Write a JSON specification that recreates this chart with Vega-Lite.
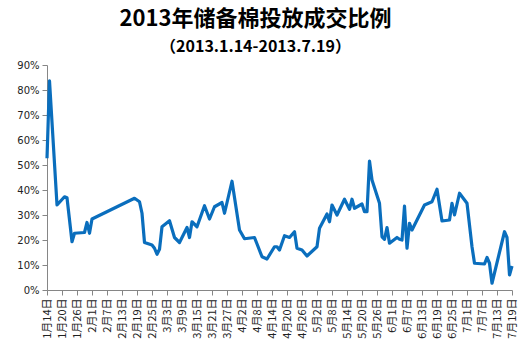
{
  "$schema": "https://vega.github.io/schema/vega-lite/v6.json",
  "autosize": {"type": "none"},
  "padding": {"left": 47, "top": 65, "right": 18, "bottom": 62},
  "width": 465,
  "height": 225,
  "background": "white",
  "title": {
    "text": "2013年储备棉投放成交比例",
    "subtitle": "（2013.1.14-2013.7.19）",
    "anchor": "middle",
    "dx": -24,
    "offset": 4,
    "font": "Noto Sans CJK SC",
    "fontSize": 22,
    "fontWeight": "bold",
    "color": "#000000",
    "subtitleFont": "Noto Sans CJK SC",
    "subtitleFontSize": 16,
    "subtitleFontWeight": "bold",
    "subtitleColor": "#000000",
    "subtitlePadding": 8
  },
  "config": {"view": {"stroke": null}},
  "data": {
    "values": [
      {"date": "2013-01-14", "v": 52.7},
      {"date": "2013-01-15", "v": 83.7},
      {"date": "2013-01-18", "v": 34.0},
      {"date": "2013-01-21", "v": 37.3},
      {"date": "2013-01-22", "v": 36.9},
      {"date": "2013-01-24", "v": 19.3},
      {"date": "2013-01-25", "v": 22.7},
      {"date": "2013-01-29", "v": 23.0},
      {"date": "2013-01-30", "v": 27.0},
      {"date": "2013-01-31", "v": 22.7},
      {"date": "2013-02-01", "v": 28.4},
      {"date": "2013-02-18", "v": 36.7},
      {"date": "2013-02-20", "v": 35.3},
      {"date": "2013-02-21", "v": 30.7},
      {"date": "2013-02-22", "v": 19.0},
      {"date": "2013-02-25", "v": 18.0},
      {"date": "2013-02-26", "v": 16.7},
      {"date": "2013-02-27", "v": 14.3},
      {"date": "2013-02-28", "v": 16.3},
      {"date": "2013-03-01", "v": 25.3},
      {"date": "2013-03-04", "v": 27.7},
      {"date": "2013-03-06", "v": 21.0},
      {"date": "2013-03-08", "v": 19.0},
      {"date": "2013-03-11", "v": 25.0},
      {"date": "2013-03-12", "v": 21.0},
      {"date": "2013-03-13", "v": 27.3},
      {"date": "2013-03-15", "v": 25.3},
      {"date": "2013-03-18", "v": 33.7},
      {"date": "2013-03-20", "v": 28.4},
      {"date": "2013-03-22", "v": 33.3},
      {"date": "2013-03-25", "v": 35.0},
      {"date": "2013-03-26", "v": 30.7},
      {"date": "2013-03-29", "v": 43.5},
      {"date": "2013-04-01", "v": 24.0},
      {"date": "2013-04-03", "v": 20.5},
      {"date": "2013-04-07", "v": 21.0},
      {"date": "2013-04-10", "v": 13.3},
      {"date": "2013-04-12", "v": 12.4},
      {"date": "2013-04-15", "v": 17.3},
      {"date": "2013-04-16", "v": 17.3},
      {"date": "2013-04-17", "v": 16.0},
      {"date": "2013-04-19", "v": 21.7},
      {"date": "2013-04-21", "v": 21.0},
      {"date": "2013-04-23", "v": 23.3},
      {"date": "2013-04-24", "v": 16.7},
      {"date": "2013-04-26", "v": 16.0},
      {"date": "2013-04-28", "v": 13.6},
      {"date": "2013-05-02", "v": 17.3},
      {"date": "2013-05-03", "v": 24.7},
      {"date": "2013-05-06", "v": 30.4},
      {"date": "2013-05-07", "v": 27.3},
      {"date": "2013-05-08", "v": 34.0},
      {"date": "2013-05-10", "v": 30.0},
      {"date": "2013-05-13", "v": 36.3},
      {"date": "2013-05-15", "v": 32.3},
      {"date": "2013-05-16", "v": 36.3},
      {"date": "2013-05-17", "v": 32.7},
      {"date": "2013-05-20", "v": 34.4},
      {"date": "2013-05-21", "v": 31.3},
      {"date": "2013-05-22", "v": 31.3},
      {"date": "2013-05-23", "v": 51.6},
      {"date": "2013-05-24", "v": 44.0},
      {"date": "2013-05-27", "v": 34.7},
      {"date": "2013-05-28", "v": 21.3},
      {"date": "2013-05-29", "v": 20.3},
      {"date": "2013-05-30", "v": 25.0},
      {"date": "2013-05-31", "v": 18.7},
      {"date": "2013-06-03", "v": 21.0},
      {"date": "2013-06-04", "v": 20.3},
      {"date": "2013-06-05", "v": 20.0},
      {"date": "2013-06-06", "v": 33.6},
      {"date": "2013-06-07", "v": 16.7},
      {"date": "2013-06-08", "v": 26.7},
      {"date": "2013-06-09", "v": 24.0},
      {"date": "2013-06-14", "v": 34.0},
      {"date": "2013-06-17", "v": 35.3},
      {"date": "2013-06-19", "v": 40.3},
      {"date": "2013-06-21", "v": 27.6},
      {"date": "2013-06-24", "v": 28.0},
      {"date": "2013-06-25", "v": 34.7},
      {"date": "2013-06-26", "v": 30.0},
      {"date": "2013-06-28", "v": 38.7},
      {"date": "2013-07-01", "v": 34.7},
      {"date": "2013-07-03", "v": 17.3},
      {"date": "2013-07-04", "v": 10.7},
      {"date": "2013-07-08", "v": 10.4},
      {"date": "2013-07-09", "v": 13.0},
      {"date": "2013-07-10", "v": 10.7},
      {"date": "2013-07-11", "v": 2.7},
      {"date": "2013-07-16", "v": 23.3},
      {"date": "2013-07-17", "v": 21.0},
      {"date": "2013-07-18", "v": 6.0},
      {"date": "2013-07-19", "v": 9.6}
    ]
  },
  "mark": {"type": "line", "color": "#0A6EBD", "strokeWidth": 3.2, "strokeJoin": "round"},
  "encoding": {
    "x": {
      "field": "date",
      "type": "temporal",
      "scale": {
        "type": "utc",
        "domain": [
          {"year": 2013, "month": 1, "date": 14, "utc": true},
          {"year": 2013, "month": 7, "date": 19, "utc": true}
        ]
      },
      "axis": {
        "title": null,
        "grid": false,
        "values": [
          {"year": 2013, "month": 1, "date": 14, "utc": true},
          {"year": 2013, "month": 1, "date": 20, "utc": true},
          {"year": 2013, "month": 1, "date": 26, "utc": true},
          {"year": 2013, "month": 2, "date": 1, "utc": true},
          {"year": 2013, "month": 2, "date": 7, "utc": true},
          {"year": 2013, "month": 2, "date": 13, "utc": true},
          {"year": 2013, "month": 2, "date": 19, "utc": true},
          {"year": 2013, "month": 2, "date": 25, "utc": true},
          {"year": 2013, "month": 3, "date": 3, "utc": true},
          {"year": 2013, "month": 3, "date": 9, "utc": true},
          {"year": 2013, "month": 3, "date": 15, "utc": true},
          {"year": 2013, "month": 3, "date": 21, "utc": true},
          {"year": 2013, "month": 3, "date": 27, "utc": true},
          {"year": 2013, "month": 4, "date": 2, "utc": true},
          {"year": 2013, "month": 4, "date": 8, "utc": true},
          {"year": 2013, "month": 4, "date": 14, "utc": true},
          {"year": 2013, "month": 4, "date": 20, "utc": true},
          {"year": 2013, "month": 4, "date": 26, "utc": true},
          {"year": 2013, "month": 5, "date": 2, "utc": true},
          {"year": 2013, "month": 5, "date": 8, "utc": true},
          {"year": 2013, "month": 5, "date": 14, "utc": true},
          {"year": 2013, "month": 5, "date": 20, "utc": true},
          {"year": 2013, "month": 5, "date": 26, "utc": true},
          {"year": 2013, "month": 6, "date": 1, "utc": true},
          {"year": 2013, "month": 6, "date": 7, "utc": true},
          {"year": 2013, "month": 6, "date": 13, "utc": true},
          {"year": 2013, "month": 6, "date": 19, "utc": true},
          {"year": 2013, "month": 6, "date": 25, "utc": true},
          {"year": 2013, "month": 7, "date": 1, "utc": true},
          {"year": 2013, "month": 7, "date": 7, "utc": true},
          {"year": 2013, "month": 7, "date": 13, "utc": true},
          {"year": 2013, "month": 7, "date": 19, "utc": true}
        ],
        "labelExpr": "utcFormat(datum.value, '%-m月%-d日')",
        "labelAngle": 270,
        "labelAlign": "right",
        "labelBaseline": "middle",
        "labelFont": "Noto Sans CJK SC",
        "labelFontSize": 11,
        "labelColor": "#222222",
        "labelPadding": 3,
        "labelOverlap": false,
        "labelBound": false,
        "labelFlush": false,
        "domainColor": "#868686",
        "tickColor": "#868686",
        "tickSize": 5
      }
    },
    "y": {
      "field": "v",
      "type": "quantitative",
      "scale": {"domain": [0, 90], "nice": false, "zero": true},
      "axis": {
        "title": null,
        "grid": false,
        "values": [0, 10, 20, 30, 40, 50, 60, 70, 80, 90],
        "labelExpr": "datum.value + '%'",
        "labelFont": "DejaVu Sans",
        "labelFontSize": 10,
        "labelColor": "#222222",
        "labelPadding": 3,
        "domainColor": "#868686",
        "tickColor": "#868686",
        "tickSize": 5
      }
    }
  }
}
